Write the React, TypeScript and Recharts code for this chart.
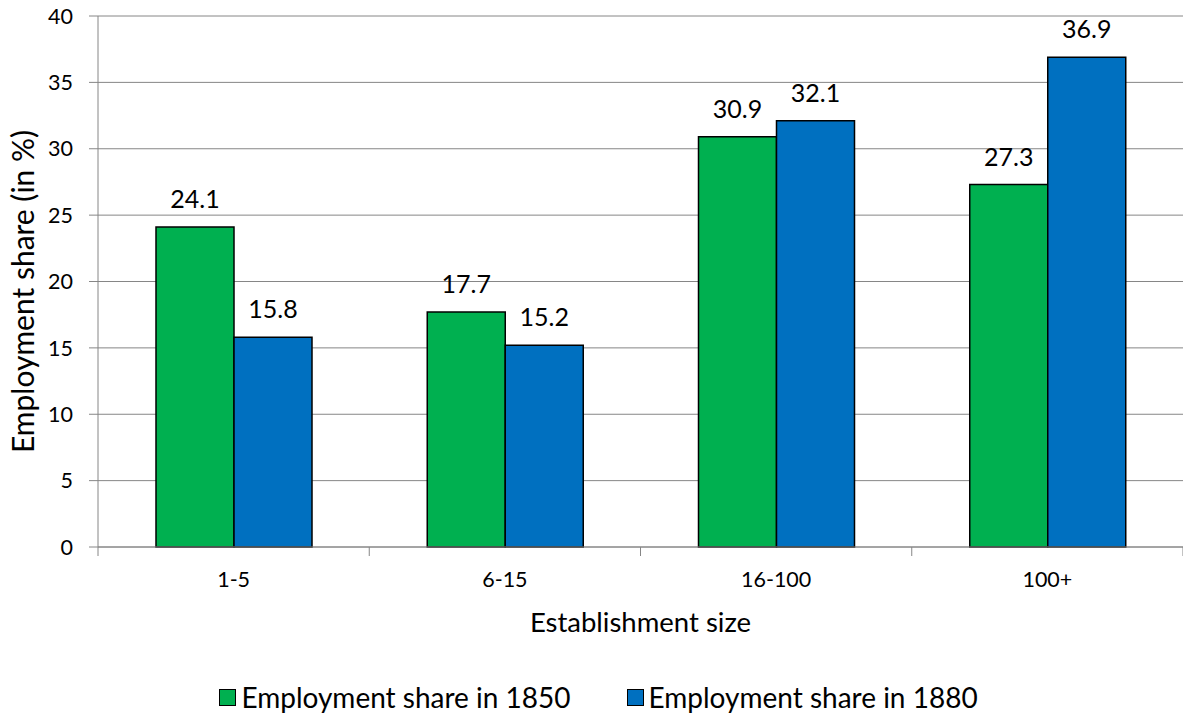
import React from "react";
import {
  Bar,
  BarChart,
  CartesianGrid,
  LabelList,
  Legend,
  XAxis,
  YAxis,
} from "recharts";

const sizes = ["1-5", "6-15", "16-100", "100+"];
const share1850 = [24.1, 17.7, 30.9, 27.3];
const share1880 = [15.8, 15.2, 32.1, 36.9];
const yTicks = [0, 5, 10, 15, 20, 25, 30, 35, 40];

const series = [
  { key: "y1850", name: "Employment share in 1850", color: "#00B050" },
  { key: "y1880", name: "Employment share in 1880", color: "#0070C0" },
];

const data = sizes.map((size, i) => ({
  size,
  y1850: share1850[i],
  y1880: share1880[i],
}));

const W = 1183;
const H = 715;
const AXIS_W = 98;
const FONT = "Lato, 'Open Sans', sans-serif";
const GRID = "#868686";
const HALF_BAND = (W - AXIS_W) / sizes.length / 2;

function SizeTick(props: any) {
  const { x, y, payload, index } = props;
  const left = x - HALF_BAND;
  const right = x + HALF_BAND;
  return (
    <g>
      <line x1={left} y1={y} x2={left} y2={y + 9} stroke={GRID} strokeWidth={1} />
      {index === sizes.length - 1 && (
        <line x1={right} y1={y} x2={right} y2={y + 9} stroke={GRID} strokeWidth={1} />
      )}
      <text
        x={x}
        y={y + 32}
        textAnchor="middle"
        dominantBaseline="central"
        fontFamily={FONT}
        fontSize={21.5}
        fill="#000"
      >
        {payload.value}
      </text>
    </g>
  );
}

function LegendBox() {
  return (
    <div
      style={{
        height: 36,
        display: "flex",
        justifyContent: "center",
        alignItems: "center",
        gap: 56,
        paddingLeft: 14,
        fontFamily: FONT,
        fontSize: 28,
        color: "#000",
        lineHeight: 1,
      }}
    >
      {series.map((s) => (
        <div key={s.key} style={{ display: "flex", alignItems: "center", gap: 5 }}>
          <span
            style={{
              width: 15,
              height: 15,
              background: s.color,
              border: "1px solid #000",
              display: "inline-block",
            }}
          />
          <span>{s.name}</span>
        </div>
      ))}
    </div>
  );
}

export default function App() {
  return (
    <div style={{ position: "absolute", left: 0, top: 0, width: W, height: H, background: "#fff" }}>
      <BarChart
        width={W}
        height={H}
        data={data}
        margin={{ top: 16, right: 0, left: 0, bottom: 0 }}
        barSize={78}
        barGap={0}
      >
        <CartesianGrid vertical={false} stroke={GRID} strokeWidth={1} />
        <XAxis
          dataKey="size"
          height={132}
          axisLine={{ stroke: GRID }}
          tickLine={false}
          tickSize={0}
          tickMargin={0}
          tick={<SizeTick />}
          interval={0}
          label={{
            content: (p: any) => (
              <text
                x={p.viewBox.x + p.viewBox.width / 2}
                y={p.viewBox.y + 74}
                textAnchor="middle"
                dominantBaseline="central"
                fontFamily={FONT}
                fontSize={27.5}
                fill="#000"
              >
                Establishment size
              </text>
            ),
          }}
        />
        <YAxis
          width={AXIS_W}
          domain={[0, 40]}
          ticks={yTicks}
          axisLine={{ stroke: GRID }}
          tickLine={{ stroke: GRID }}
          tickSize={9}
          tickMargin={16}
          tick={{ fontFamily: FONT, fontSize: 21.5, fill: "#000" }}
          label={{
            content: (p: any) => {
              const cx = 22;
              const cy = p.viewBox.y + p.viewBox.height / 2 + 10;
              return (
                <text
                  x={cx}
                  y={cy}
                  transform={`rotate(-90 ${cx} ${cy})`}
                  textAnchor="middle"
                  dominantBaseline="central"
                  fontFamily={FONT}
                  fontSize={30}
                  fill="#000"
                >
                  Employment share (in %)
                </text>
              );
            },
          }}
        />
        <Legend verticalAlign="bottom" content={<LegendBox />} />
        {series.map((s) => (
          <Bar
            key={s.key}
            dataKey={s.key}
            name={s.name}
            fill={s.color}
            stroke="#000"
            strokeWidth={1.5}
            isAnimationActive={false}
          >
            <LabelList
              dataKey={s.key}
              position="top"
              offset={19}
              style={{ fontFamily: FONT, fontSize: 25, fill: "#000" }}
            />
          </Bar>
        ))}
      </BarChart>
    </div>
  );
}
